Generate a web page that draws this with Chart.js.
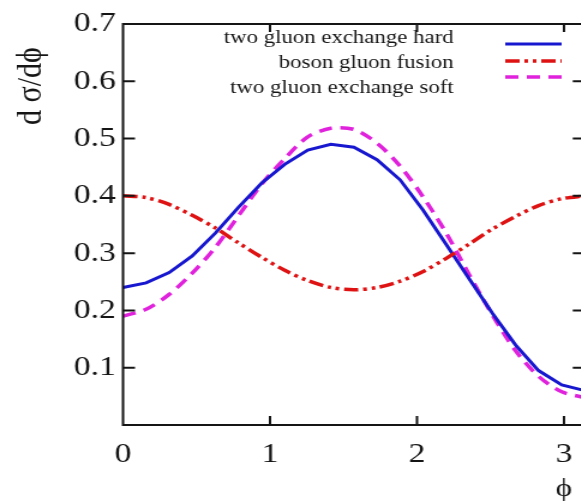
<!DOCTYPE html>
<html>
<head>
<meta charset="utf-8">
<script src="https://cdn.jsdelivr.net/npm/chart.js@4"></script>
<style>
  html, body { margin: 0; padding: 0; background: #fff; overflow: hidden; }
  /* the plot is drawn narrow and widened so the serif text keeps its broad look */
  #stretch { width: 490px; height: 502px; transform: scaleX(1.2); transform-origin: 0 0; }
</style>
</head>
<body>
<div id="stretch"><canvas id="phiChart"></canvas></div>
<script>
const phiValues = [0, 0.157, 0.314, 0.471, 0.628, 0.785, 0.942, 1.100, 1.257, 1.414, 1.571,
    1.728, 1.885, 2.042, 2.199, 2.356, 2.513, 2.670, 2.827, 2.985, 3.142];
const hardValues = [0.240, 0.248, 0.266, 0.295, 0.335, 0.380, 0.422, 0.455, 0.480, 0.490, 0.485,
    0.463, 0.428, 0.375, 0.315, 0.255, 0.195, 0.140, 0.095, 0.070, 0.060];
const fusionValues = [0.400, 0.397, 0.385, 0.366, 0.344, 0.318, 0.293, 0.270, 0.252, 0.240, 0.236,
    0.240, 0.251, 0.268, 0.291, 0.316, 0.342, 0.364, 0.383, 0.395, 0.400];
const softValues = [0.190, 0.202, 0.228, 0.265, 0.310, 0.365, 0.420, 0.465, 0.503, 0.518, 0.516,
    0.492, 0.452, 0.398, 0.335, 0.262, 0.192, 0.130, 0.085, 0.058, 0.048];
const seriesLabels = ["two gluon exchange hard", "boson gluon fusion", "two gluon exchange soft"];
const xTickValues = [0, 1, 2, 3];
const yTickValues = [0.1, 0.2, 0.3, 0.4, 0.5, 0.6, 0.7];
const phiMax = 3.1416;

const serif = "'Liberation Serif', 'Times New Roman', serif";
const ink = "#151515";

function toPoints(values) {
    return values.map((v, i) => ({ x: phiValues[i], y: v }));
}

// box with inward ticks, axis titles and the legend block
const framePlugin = {
    id: "frame",
    afterDatasetsDraw(chart) {
        const { ctx, chartArea: a, scales } = chart;
        const xs = scales.x, ys = scales.y;
        ctx.save();
        ctx.strokeStyle = ink;
        ctx.lineWidth = 2;
        ctx.setLineDash([]);
        ctx.beginPath();
        ctx.moveTo(a.left, a.top);
        ctx.lineTo(a.right, a.top);
        ctx.lineTo(a.right, a.bottom);
        ctx.lineTo(a.left, a.bottom);
        ctx.closePath();
        xTickValues.forEach((v) => {
            if (v === 0) return;
            const px = xs.getPixelForValue(v);
            ctx.moveTo(px, a.bottom);
            ctx.lineTo(px, a.bottom - 9);
            ctx.moveTo(px, a.top);
            ctx.lineTo(px, a.top + 8);
        });
        yTickValues.forEach((v) => {
            if (v >= 0.7) return;
            const py = ys.getPixelForValue(v);
            ctx.moveTo(a.left, py);
            ctx.lineTo(a.left + 10, py);
            ctx.moveTo(a.right, py);
            ctx.lineTo(a.right - 10, py);
        });
        ctx.stroke();

        ctx.fillStyle = ink;
        ctx.textAlign = "center";
        ctx.textBaseline = "middle";
        ctx.font = "26px " + serif;
        ctx.fillText("ϕ", xs.getPixelForValue(3), 489);
        ctx.save();
        ctx.translate(26, 86);
        ctx.rotate(-Math.PI / 2);
        ctx.font = "30px " + serif;
        ctx.fillText("d σ/dϕ", 0, 0);
        ctx.restore();

        // legend: labels on the left, line samples on the right
        const textY = [38, 63, 88];
        const sampleY = [44, 61, 77];
        ctx.font = "19px " + serif;
        ctx.textAlign = "right";
        seriesLabels.forEach((label, i) => {
            const ds = chart.data.datasets.find((d) => d.label === label);
            ctx.fillStyle = ink;
            ctx.fillText(label, 378, textY[i]);
            ctx.strokeStyle = ds.borderColor;
            ctx.lineWidth = ds.borderWidth;
            ctx.setLineDash(ds.borderDash || []);
            ctx.beginPath();
            ctx.moveTo(421, sampleY[i]);
            ctx.lineTo(468, sampleY[i]);
            ctx.stroke();
        });
        ctx.restore();
    },
};

function renderPhiChart() {
    const ctx = document.getElementById("phiChart").getContext("2d");

    new Chart(ctx, {
        type: "line",
        data: {
            datasets: [
                {
                    label: seriesLabels[0],
                    data: toPoints(hardValues),
                    borderColor: "#1717cf",
                    borderWidth: 3,
                    tension: 0,
                    order: 1,
                },
                {
                    label: seriesLabels[1],
                    data: toPoints(fusionValues),
                    borderColor: "#de1212",
                    borderWidth: 3.5,
                    borderDash: [12, 4, 3, 4, 3, 4],
                    tension: 0.3,
                    order: 0,
                },
                {
                    label: seriesLabels[2],
                    data: toPoints(softValues),
                    borderColor: "#e022dc",
                    borderWidth: 3.5,
                    borderDash: [11, 7],
                    tension: 0.3,
                    order: 2,
                },
            ],
        },
        options: {
            responsive: true,
            maintainAspectRatio: false,
            animation: false,
            elements: { point: { radius: 0 } },
            layout: { padding: { top: 24, right: 2.7, left: 0, bottom: 0 } },
            plugins: {
                legend: { display: false },
                tooltip: { enabled: false },
            },
            scales: {
                x: {
                    type: "linear",
                    min: 0,
                    max: phiMax,
                    grid: { display: false, drawTicks: false },
                    border: { display: false },
                    afterBuildTicks: (scale) => {
                        scale.ticks = xTickValues.map((v) => ({ value: v }));
                    },
                    afterFit: (scale) => {
                        scale.height = 77;
                        scale.paddingLeft = 0;
                        scale.paddingRight = 0;
                    },
                    ticks: {
                        padding: 13,
                        color: ink,
                        font: { family: serif, size: 28 },
                        callback: (v) => String(v),
                    },
                },
                y: {
                    min: 0,
                    max: 0.7,
                    grid: { display: false, drawTicks: false },
                    border: { display: false },
                    afterBuildTicks: (scale) => {
                        scale.ticks = yTickValues.map((v) => ({ value: v }));
                    },
                    afterFit: (scale) => {
                        scale.width = 102.5;
                        scale.paddingTop = 0;
                        scale.paddingBottom = 0;
                    },
                    ticks: {
                        padding: 6,
                        color: ink,
                        font: { family: serif, size: 28 },
                        callback: (v) => Number(v).toFixed(1),
                    },
                },
            },
        },
        plugins: [framePlugin],
    });
}

document.addEventListener("DOMContentLoaded", renderPhiChart);
</script>
</body>
</html>
